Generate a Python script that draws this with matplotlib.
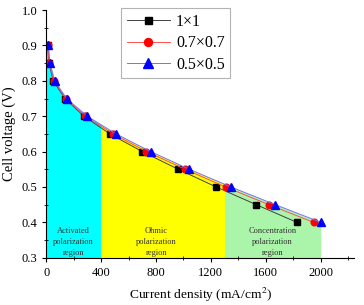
import numpy as np
import matplotlib
matplotlib.use("Agg")
import matplotlib.pyplot as plt
from matplotlib.ticker import MultipleLocator

plt.rcParams['font.family'] = ['Liberation Serif', 'DejaVu Serif']
plt.rcParams['mathtext.fontset'] = 'stix'

voltage = [0.9, 0.85, 0.8, 0.75, 0.7, 0.65, 0.6, 0.55, 0.5, 0.45, 0.4]
cd_1x1 = [10, 20, 51, 136, 275, 464, 700, 962, 1239, 1531, 1827]
cd_07 = [10, 22, 56, 141, 284, 488, 731, 1013, 1307, 1623, 1949]
cd_05 = [15, 27, 61, 148, 299, 508, 761, 1043, 1346, 1669, 2002]
labels = ['1×1', '0.7×0.7', '0.5×0.5']
region_bounds = [0, 400, 1300, 2002]
region_colors = ['#00FFFF', '#FFFF00', '#AAF5AA']
region_texts = ['Activated\npolarization\nregion', 'Ohmic\npolarization\nregion',
                'Concentration\npolarization\nregion']
region_text_x = [200, 804, 1648]

fig = plt.figure(figsize=(3.64, 3.05), dpi=100)
ax = fig.add_axes([0.127, 0.155, 0.846, 0.812])

# fill under 0.5x0.5 curve by region
xb = np.array(cd_05, float)
yb = np.array(voltage, float)
for (x0, x1), c in zip(zip(region_bounds[:-1], region_bounds[1:]), region_colors):
    xs = np.linspace(x0, x1, 300)
    ys = np.interp(xs, xb, yb)
    ax.fill_between(xs, ys, 0.3, color=c, linewidth=0, zorder=1)

ax.plot(cd_1x1, voltage, color='#404040', lw=0.7, marker='s', ms=4.2,
        mfc='black', mec='black', label=labels[0], zorder=3)
ax.plot(cd_07, voltage, color='#ff5050', lw=0.7, marker='o', ms=4.8,
        mfc='red', mec='red', label=labels[1], zorder=3)
ax.plot(cd_05, voltage, color='#7070ff', lw=0.7, marker='^', ms=5.8,
        mfc='blue', mec='blue', label=labels[2], zorder=3)

for t, xt in zip(region_texts, region_text_x):
    ax.text(xt, 0.344, t, ha='center', va='center', fontsize=6,
            color='#303030', linespacing=1.5, zorder=4)

ax.set_xlim(0, 2245)
ax.set_ylim(0.3, 1.0)
ax.xaxis.set_major_locator(MultipleLocator(400))
ax.xaxis.set_minor_locator(MultipleLocator(200))
ax.yaxis.set_major_locator(MultipleLocator(0.1))
ax.yaxis.set_minor_locator(MultipleLocator(0.05))
ax.yaxis.set_major_formatter(matplotlib.ticker.FormatStrFormatter('%.1f'))
ax.spines['top'].set_visible(False)
ax.spines['right'].set_visible(False)
for s in ['left', 'bottom']:
    ax.spines[s].set_linewidth(0.8)
    ax.spines[s].set_zorder(5)
ax.tick_params(which='major', direction='out', length=3, width=0.8, labelsize=9)
ax.tick_params(which='minor', direction='inout', length=2.5, width=0.6)

ax.set_xlabel('Current density (mA/cm$^2$)', fontsize=9.7, labelpad=5)
ax.set_ylabel('Cell voltage (V)', fontsize=10.5, labelpad=4)

leg = fig.legend(loc='upper left', bbox_to_anchor=(121/364, 1 - 8/305),
                 fontsize=11.5, frameon=True, fancybox=False, edgecolor='#a0a0a0',
                 handlelength=2.7, borderpad=0.35, labelspacing=0.35,
                 handletextpad=0.4, borderaxespad=0, markerscale=1.2)
leg.get_frame().set_linewidth(0.8)

fig.savefig('out.png', dpi=100)
